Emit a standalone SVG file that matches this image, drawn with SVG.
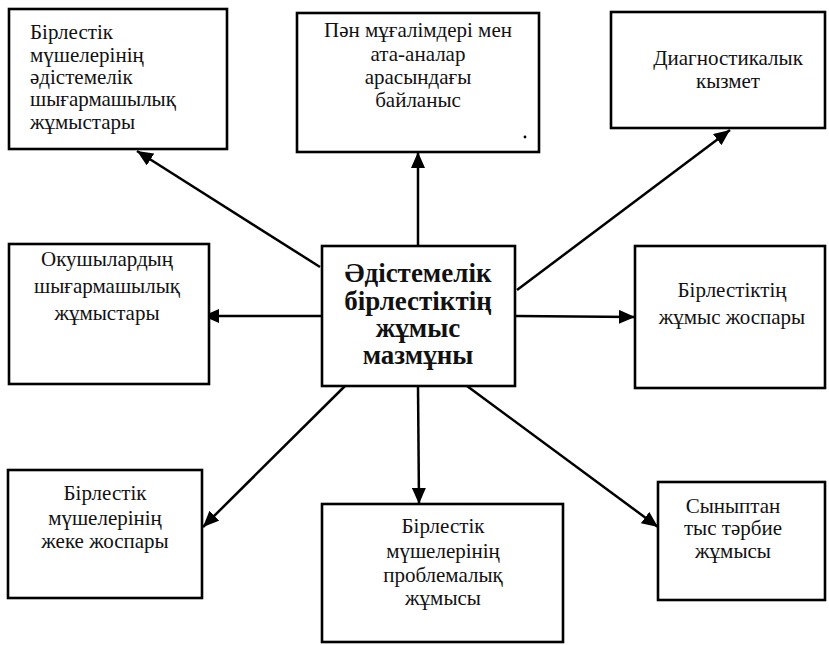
<svg xmlns="http://www.w3.org/2000/svg" width="829" height="645" viewBox="0 0 829 645">
<style>
  .box { fill: #fff; stroke: #000; stroke-width: 2.6; }
  .t { font-family: "Liberation Serif", "DejaVu Serif", "Times New Roman", serif; font-size: 21px; fill: #111; }
  .c { text-anchor: middle; }
  .main { font-family: "Liberation Serif", "DejaVu Serif", "Times New Roman", serif; font-size: 27px; font-weight: bold; fill: #111; text-anchor: middle; }
  .conn line { stroke: #000; stroke-width: 2.5; marker-end: url(#arr); }
</style>
<defs>
  <marker id="arr" markerUnits="userSpaceOnUse" markerWidth="18" markerHeight="14" refX="16" refY="7" orient="auto">
    <path d="M0,0 L16,7 L0,14 Z" fill="#000"/>
  </marker>
</defs>
<rect width="829" height="645" fill="#fff"/>

<g id="connectors" class="conn">
  <line x1="320" y1="267" x2="137" y2="151"/>
  <line x1="418" y1="246" x2="418" y2="152"/>
  <line x1="517" y1="290" x2="730" y2="130"/>
  <line x1="322" y1="316" x2="203" y2="316"/>
  <line x1="515" y1="316" x2="635" y2="317"/>
  <line x1="345" y1="386" x2="203" y2="527"/>
  <line x1="418" y1="386" x2="419" y2="504"/>
  <line x1="467" y1="386" x2="658" y2="527"/>
</g>

<g id="node-center">
  <rect class="box" x="322" y="246" width="193" height="140"/>
  <text class="main" x="418" y="282">Әдістемелік</text>
  <text class="main" x="418" y="310">бірлестіктің</text>
  <text class="main" x="418" y="337">жұмыс</text>
  <text class="main" x="418" y="364">мазмұны</text>
</g>

<g id="node-1">
  <rect class="box" x="9" y="9" width="218" height="140"/>
  <text class="t" x="30" y="39">Бірлестік</text>
  <text class="t" x="30" y="62">мүшелерінің</text>
  <text class="t" x="30" y="84">әдістемелік</text>
  <text class="t" x="30" y="106">шығармашылық</text>
  <text class="t" x="30" y="129">жұмыстары</text>
</g>

<g id="node-2">
  <rect class="box" x="297" y="13" width="242" height="139"/>
  <text class="t c" x="418" y="37">Пән мұғалімдері мен</text>
  <text class="t c" x="418" y="61">ата-аналар</text>
  <text class="t c" x="418" y="84">арасындағы</text>
  <text class="t c" x="418" y="107">байланыс</text>
  <circle cx="525" cy="137" r="1.4" fill="#000"/>
</g>

<g id="node-3">
  <rect class="box" x="611" y="12" width="214" height="116"/>
  <text class="t c" x="728" y="65">Диагностикалык</text>
  <text class="t c" x="728" y="88">кызмет</text>
</g>

<g id="node-4">
  <rect class="box" x="9" y="244" width="200" height="140"/>
  <text class="t c" x="107" y="266">Окушылардың</text>
  <text class="t c" x="107" y="293">шығармашылық</text>
  <text class="t c" x="107" y="320">жұмыстары</text>
</g>

<g id="node-6">
  <rect class="box" x="635" y="246" width="190" height="142"/>
  <text class="t c" x="732" y="297">Бірлестіктің</text>
  <text class="t c" x="732" y="324">жұмыс жоспары</text>
</g>

<g id="node-7">
  <rect class="box" x="8" y="470" width="194" height="128"/>
  <text class="t c" x="105" y="500">Бірлестік</text>
  <text class="t c" x="105" y="525">мүшелерінің</text>
  <text class="t c" x="105" y="548">жеке жоспары</text>
</g>

<g id="node-8">
  <rect class="box" x="322" y="504" width="241" height="138"/>
  <text class="t c" x="443" y="533">Бірлестік</text>
  <text class="t c" x="443" y="558">мүшелерінің</text>
  <text class="t c" x="443" y="582">проблемалық</text>
  <text class="t c" x="443" y="605">жұмысы</text>
</g>

<g id="node-9">
  <rect class="box" x="658" y="482" width="167" height="118"/>
  <text class="t c" x="733" y="513">Сыныптан</text>
  <text class="t c" x="733" y="535">тыс тәрбие</text>
  <text class="t c" x="733" y="558">жұмысы</text>
</g>
</svg>
